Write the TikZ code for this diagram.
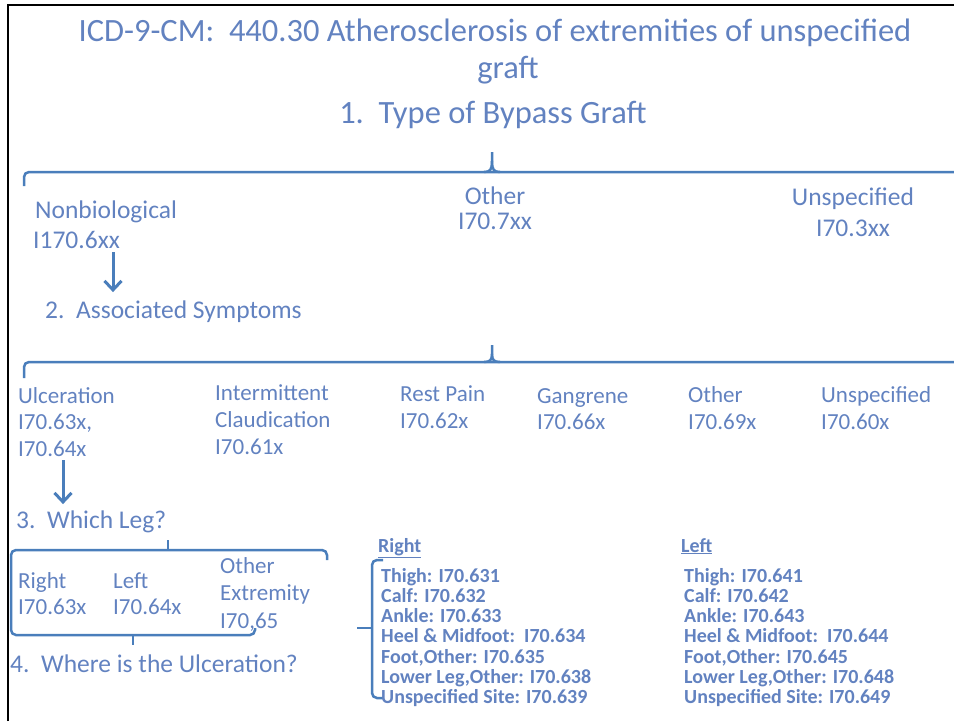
\documentclass[tikz,border=0pt]{standalone}
\usepackage{fontspec}
\setmainfont{Carlito}
\usepackage{xcolor}
\usepackage{tikz}
\usetikzlibrary{calc, arrows.meta}
\definecolor{txtblue}{RGB}{98,130,192}
\definecolor{lineblue}{RGB}{74,126,187}
\tikzstyle{maintitle} = [anchor=base, inner sep=0pt, text=txtblue, font=\fontsize{32.5}{38}\selectfont]
\tikzstyle{stephead}  = [anchor=base west, inner sep=0pt, text=txtblue, font=\fontsize{25.5}{30}\selectfont]
\tikzstyle{grafttype} = [anchor=base west, inner sep=0pt, text=txtblue, font=\fontsize{25.5}{30}\selectfont]
\tikzstyle{symptom}   = [anchor=base west, inner sep=0pt, text=txtblue, font=\fontsize{23}{27}\selectfont]
\tikzstyle{site}      = [anchor=base west, inner sep=0pt, text=txtblue, font=\bfseries\fontsize{20}{20.2}\selectfont]
\tikzstyle{brace}     = [lineblue, line width=2.5pt, rounded corners=5pt]
\tikzstyle{cusp}      = [lineblue, line width=2.5pt]
\tikzstyle{arrow}     = [lineblue, line width=3pt, -{Straight Barb[length=9pt, width=17pt]}]

\begin{document}
\begin{tikzpicture}[x=1pt, y=-1pt]
    \useasboundingbox (0,0) rectangle (954,721);
    \draw [black, line width=2pt] (8,721) -- (8,5) -- (954,5);

    \node (title)  [maintitle] at (495,41)  {ICD-9-CM:\ \ 440.30 Atherosclerosis of extremities of unspecified};
    \node (title2) [maintitle] at (508,78)  {graft};
    \node (step1)  [maintitle] at (493,123) {1.\ \ Type of Bypass Graft};

    % type of graft
    \draw [cusp] (484,172) .. controls (490,172) and (492,170) .. (492,161) -- (492,152);
    \draw [cusp] (500,172) .. controls (494,172) and (492,170) .. (492,161);
    \draw [brace] (24,186) -- (24,172) -- (954,172);
    \node (nonbio)      [grafttype] at (35,218) {Nonbiological};
    \node (nonbio-code) [grafttype] at (33,248) {I170.6xx};
    \node (othergraft)      [grafttype, anchor=base] at (495,204) {Other};
    \node (othergraft-code) [grafttype, anchor=base] at (495,229) {I70.7xx};
    \node (unspecgraft)      [grafttype, anchor=base] at (853,205) {Unspecified};
    \node (unspecgraft-code) [grafttype, anchor=base] at (853,236) {I70.3xx};

    \node (step2) [stephead] at (45,318) {2.\ \ Associated Symptoms};
    \coordinate (arrowA) at (113,0);
    \draw [arrow] ([yshift=-4pt]nonbio-code.south -| arrowA) -- ([yshift=8pt]step2.north -| arrowA);

    % symptoms
    \draw [cusp] (484,362) .. controls (490,362) and (492,360) .. (492,354) -- (492,345);
    \draw [cusp] (500,362) .. controls (494,362) and (492,360) .. (492,354);
    \draw [brace] (24,378) -- (24,362) -- (954,362);
    \node (ulcer)   [symptom] at (18,403) {Ulceration};
    \node (ulcer-a) [symptom] at (18,429) {I70.63x,};
    \node (ulcer-b) [symptom] at (18,456) {I70.64x};
    \node (claud)   [symptom] at (215,400) {Intermittent};
    \node (claud-a) [symptom] at (215,427) {Claudication};
    \node (claud-b) [symptom] at (215,454) {I70.61x};
    \node (rest)    [symptom] at (400,401) {Rest Pain};
    \node (rest-a)  [symptom] at (400,428) {I70.62x};
    \node (gang)    [symptom] at (537,403) {Gangrene};
    \node (gang-a)  [symptom] at (537,429) {I70.66x};
    \node (othersym)   [symptom] at (688,402) {Other};
    \node (othersym-a) [symptom] at (688,429) {I70.69x};
    \node (unspecsym)   [symptom] at (821,402) {Unspecified};
    \node (unspecsym-a) [symptom] at (821,429) {I70.60x};

    \node (step3) [stephead] at (16,528) {3.\ \ Which Leg?};
    \coordinate (arrowB) at (63,0);
    \draw [arrow] ([yshift=-4pt]ulcer-b.south -| arrowB) -- ([yshift=6pt]step3.north -| arrowB);

    % which leg
    \draw [cusp] (168,540) -- (168,550);
    \draw [cusp] (133,635) -- (133,645);
    \draw [brace] (327,560) -- (327,550) -- (11,550) -- (11,635) -- (255,635) -- (255,628);
    \node (rleg)    [symptom] at (18,588)  {Right};
    \node (rleg-a)  [symptom] at (18,614)  {I70.63x};
    \node (lleg)    [symptom] at (113,588) {Left};
    \node (lleg-a)  [symptom] at (113,614) {I70.64x};
    \node (oext)    [symptom] at (220,573) {Other};
    \node (oext-a)  [symptom] at (220,600) {Extremity};
    \node (oext-b)  [symptom] at (220,628) {I70,65};

    \node (step4) [stephead] at (10,672) {4.\ \ Where is the Ulceration?};

    % ulcer sites
    \draw [cusp] (357,628) -- (372,628);
    \draw [brace] (383,560) -- (372,560) -- (372,698) -- (383,698);
    \node (rsites) [site] at (378,552) {\underline{Right}};
    \node (lsites) [site] at (681,552) {\underline{Left}};
    \node (rlist) [site, anchor=north west, align=left] at (381,568) {Thigh: I70.631\\Calf: I70.632\\Ankle: I70.633\\Heel \& Midfoot:\ \ I70.634\\Foot,Other: I70.635\\Lower Leg,Other: I70.638\\Unspecified Site: I70.639};
    \node (llist) [site, anchor=north west, align=left] at (684,568) {Thigh: I70.641\\Calf: I70.642\\Ankle: I70.643\\Heel \& Midfoot:\ \ I70.644\\Foot,Other: I70.645\\Lower Leg,Other: I70.648\\Unspecified Site: I70.649};
\end{tikzpicture}
\end{document}
